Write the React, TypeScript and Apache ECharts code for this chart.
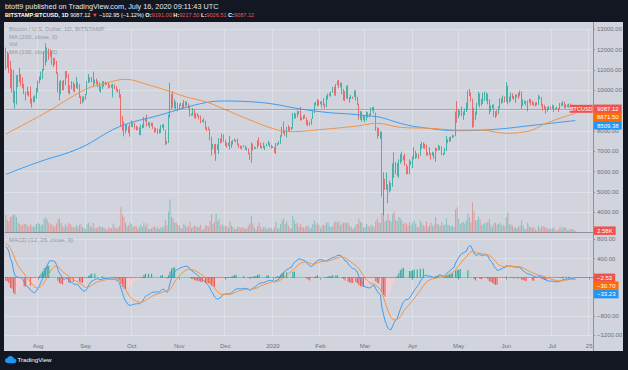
import React, { useEffect, useRef } from "react";
import * as echarts from "echarts";

const FONT = "'Liberation Sans', Arial, sans-serif";

// ---- daily closes before the visible window (used only to warm up the MACD EMAs), 2019-05-01 .. 2019-07-10
const warmupCloses = [
  5350, 5400, 5750, 5800, 5740, 5690, 5760, 5940, 6150, 6350, 7250, 6970, 7800, 7980, 8190, 7870, 7360, 7260, 8190, 7980, 7960, 7620, 7880, 8000, 8060, 8720, 8780, 8720, 8660, 8280, 8550,
  8560, 8740, 8120, 7680, 7790, 7800, 8010, 7930, 7630, 8010, 7920, 8170, 8230, 8690, 8850, 8990, 9320, 9080, 9280, 9530, 10200, 10700, 10850, 11000, 11770, 12930, 11180, 12350, 11880, 10780,
  10590, 10820, 11980, 11170, 10990, 11250, 11470, 12290, 12570, 12100,
];

// ---- visible daily candles, 2019-07-11 .. 2020-07-16
const closes = [
  11350, 11800, 11380, 10200, 10850, 9450, 9680, 10640, 10530, 10760, 10590, 10320, 9850, 9770, 9880, 9860, 9470, 9540, 9500, 9590, 10090,
  10400, 10530, 10820, 10980, 11800, 11480, 11980, 11960, 11870, 11290, 11560, 11390, 10860, 10030, 10300, 10370, 10230, 10340, 10920, 10760, 10130, 10120, 10410, 10140, 10130, 10370, 10180, 9720, 9490, 9590, 9600,
  9770, 10390, 10620, 10580, 10580, 10330, 10480, 10400, 10340, 10120, 10160, 10420, 10360, 10360, 10310, 10260, 10190, 10160, 10270, 10180, 9980, 10030, 9700, 8530, 8430, 8060, 8190, 8210, 8050, 8300,
  8330, 8390, 8240, 8160, 8150, 7870, 8200, 8200, 8590, 8590, 8270, 8300, 8280, 8360, 8160, 8000, 8080, 7960, 7960, 8230, 8240, 8030, 7470, 7420, 8660, 9260, 9550, 9230, 9430, 9190, 9150,
  9250, 9310, 9210, 9420, 9320, 9340, 9210, 8780, 8810, 9040, 8730, 8820, 8760, 8630, 8470, 8510, 8500, 8180, 8120, 8080, 7620, 7290, 7330, 6910, 7150, 7170, 7520, 7430, 7760, 7550,
  7410, 7300, 7300, 7200, 7400, 7540, 7510, 7530, 7350, 7230, 7210, 7200, 7260, 7080, 7110, 6880, 6620, 7290, 7150, 7190, 7150, 7510, 7320, 7250, 7200, 7200, 7250, 7300, 7390, 7220, 7170,
  7180, 6950, 7340, 7350, 7360, 7760, 8150, 8050, 7820, 8190, 8020, 8180, 8110, 8810, 8820, 8720, 8900, 8910, 8700, 8630, 8720, 8660, 8390, 8430, 8330, 8590, 8900, 9390, 9290, 9510, 9350,
  9380, 9330, 9290, 9180, 9620, 9760, 9800, 9900, 10160, 9850, 10270, 10360, 10240, 10360, 9900, 9930, 9710, 10180, 9600, 9610, 9680, 9670, 9960, 9670, 9310, 8780, 8810, 8700, 8540,
  8540, 8910, 8760, 8760, 9070, 9150, 8900, 8040, 7930, 7900, 7950, 4860, 5620, 5170, 5360, 5030, 5330, 5400, 6200, 6190, 6190, 5830, 6480, 6770, 6700, 6750, 6370, 6250, 5880, 6410, 6430,
  6670, 6810, 6740, 6870, 6780, 7340, 7200, 7370, 7290, 6870, 6890, 6910, 6850, 6860, 6630, 7110, 7040, 7260, 7130, 6850, 6850, 7130, 7490, 7510, 7540, 7700, 7790, 7770, 8790, 8620,
  8830, 8980, 8890, 8890, 9030, 9150, 9990, 9810, 9540, 8730, 8570, 8820, 9310, 9790, 9310, 9380, 9670, 9730, 9770, 9510, 9060, 9170, 9180, 8720, 8900, 8840, 9210, 9580, 9430, 9700, 9450,
  10200, 9520, 9670, 9790, 9620, 9670, 9760, 9780, 9770, 9890, 9280, 9470, 9480, 9340, 9430, 9520, 9460, 9380, 9300, 9360, 9290, 9680, 9630, 9290, 9250, 9160, 9000, 9110, 9190, 9140,
  9230, 9090, 9070, 9130, 9080, 9340, 9250, 9430, 9240, 9290, 9240, 9300, 9240, 9250, 9191, 9087.12,
];
const highs = [
  12100, 11900, 11820, 11450, 11050, 11000, 9980, 10750, 10750, 11100, 10800, 10650, 10320, 9930, 10180, 9950, 10200, 9600, 9700, 9750, 10120,
  10480, 10680, 10920, 11050, 11900, 12300, 12100, 12050, 12020, 11950, 11580, 11600, 11450, 10880, 10440, 10500, 10460, 10500, 10940, 10950, 10800, 10250, 10450, 10400, 10300, 10650, 10400, 10300, 9730, 9690, 9700,
  9820, 10450, 10800, 10650, 10640, 10920, 10530, 10580, 10480, 10400, 10220, 10440, 10450, 10420, 10380, 10370, 10270, 10280, 10320, 10290, 10200, 10070, 10050, 9800, 8730, 8460, 8290, 8320, 8230, 8330,
  8520, 8400, 8410, 8260, 8200, 8170, 8310, 8330, 8680, 8650, 8800, 8420, 8440, 8400, 8400, 8180, 8130, 8120, 8100, 8290, 8330, 8330, 8050, 7500, 8800, 10370, 9800, 9950, 9560, 9440, 9400,
  9300, 9390, 9360, 9520, 9460, 9440, 9360, 9220, 8860, 9130, 9070, 8880, 8860, 8780, 8760, 8540, 8620, 8500, 8190, 8210, 8100, 7710, 7360, 7350, 7360, 7340, 7650, 7630, 7870, 7820,
  7560, 7430, 7420, 7750, 7490, 7550, 7620, 7570, 7620, 7380, 7280, 7250, 7290, 7280, 7190, 7140, 6930, 7430, 7370, 7230, 7190, 7530, 7690, 7430, 7270, 7430, 7270, 7370, 7520, 7420, 7310,
  7250, 7200, 7400, 7400, 7490, 7790, 8200, 8460, 8050, 8200, 8280, 8190, 8190, 8880, 8900, 8850, 9000, 8980, 9180, 8680, 8770, 8800, 8660, 8520, 8450, 8600, 8970, 9400, 9420, 9570, 9520,
  9440, 9470, 9600, 9350, 9730, 9840, 9860, 9950, 10160, 10180, 10300, 10480, 10520, 10380, 10380, 10060, 9960, 10200, 10260, 9670, 9760, 9690, 9990, 10000, 9680, 9340, 8980, 8950, 8780,
  8740, 8960, 8920, 8850, 9150, 9170, 9190, 8900, 8180, 8140, 7980, 7970, 5960, 5650, 5950, 5370, 5560, 5440, 6400, 6950, 6460, 6420, 6600, 6860, 6980, 6780, 6880, 6300, 6260, 6600, 6520,
  6740, 7200, 7020, 6900, 6880, 7360, 7460, 7420, 7370, 7320, 6950, 7190, 6920, 6980, 6940, 7170, 7160, 7320, 7260, 7230, 6930, 7160, 7750, 7590, 7700, 7720, 7800, 7790, 8950, 9470,
  9060, 9000, 9200, 8960, 9100, 9400, 9990, 10060, 9900, 9580, 9130, 8960, 9380, 9920, 9840, 9580, 9880, 9940, 9890, 9840, 9560, 9250, 9300, 9300, 8970, 9020, 9220, 9600, 9600, 9740, 9700,
  10400, 10230, 9690, 9880, 9850, 9720, 9790, 9800, 9880, 9980, 9950, 9560, 9490, 9480, 9500, 9580, 9560, 9480, 9400, 9400, 9420, 9780, 9700, 9670, 9320, 9280, 9200, 9180, 9230, 9200,
  9290, 9270, 9130, 9190, 9140, 9370, 9370, 9470, 9440, 9310, 9300, 9340, 9350, 9280, 9270, 9217.5,
];
const lows = [
  11000, 11100, 10850, 10100, 9900, 9380, 9100, 9300, 10150, 10400, 10200, 10100, 9800, 9500, 9750, 9690, 9350, 9150, 9400, 9420, 9580,
  9900, 10330, 10500, 10550, 10960, 11220, 11400, 11500, 11650, 11250, 11150, 11250, 10800, 9900, 9500, 9800, 10000, 10000, 10250, 10600, 9850, 9800, 10050, 9930, 9900, 10100, 10050, 9620, 9320, 9360, 9430,
  9530, 9770, 10350, 10400, 10400, 10150, 10310, 10300, 10150, 9950, 9870, 10050, 10170, 10250, 10270, 10080, 10130, 10120, 9650, 10050, 9950, 9880, 9620, 8220, 8000, 7730, 7880, 8020, 7900, 7720,
  8200, 8180, 8080, 8020, 8050, 7800, 7780, 8120, 8150, 8460, 8220, 8250, 8150, 8230, 8100, 7910, 7950, 7850, 7880, 7900, 8150, 8020, 7300, 7350, 7400, 8650, 9080, 9150, 9120, 9060, 8970,
  9050, 9220, 9100, 9110, 9200, 9250, 9100, 8700, 8750, 8750, 8620, 8600, 8700, 8570, 8380, 8450, 8400, 8070, 7980, 8040, 7530, 6800, 7110, 6870, 6530, 7070, 6860, 7380, 7420, 7470,
  7250, 7170, 7260, 7080, 7160, 7330, 7490, 7440, 7300, 7170, 7130, 7080, 7200, 7060, 7030, 6850, 6570, 6430, 7030, 7100, 7110, 7130, 7260, 7160, 7130, 7150, 7060, 7240, 7290, 7200, 7130,
  7160, 6920, 6860, 7270, 7330, 7360, 7720, 7870, 7760, 7670, 8000, 7970, 8040, 8110, 8590, 8620, 8670, 8820, 8500, 8530, 8560, 8610, 8300, 8230, 8260, 8300, 8580, 8870, 9250, 9210, 9240,
  9310, 9150, 9240, 9100, 9170, 9540, 9700, 9690, 9880, 9740, 9730, 10250, 10100, 10140, 9800, 9500, 9470, 9600, 9560, 9400, 9560, 9570, 9660, 9500, 9270, 8550, 8540, 8450, 8530,
  8410, 8500, 8660, 8670, 8760, 8990, 8850, 8000, 7630, 7750, 7600, 4770, 3850, 5100, 5100, 4440, 4970, 5060, 5250, 5680, 5860, 5760, 5700, 6380, 6470, 6550, 6290, 5870, 5860, 5870, 6330,
  6170, 6600, 6630, 6680, 6620, 6780, 7110, 7150, 7120, 6770, 6790, 6810, 6580, 6780, 6620, 6480, 7000, 7020, 7060, 6800, 6800, 6840, 7010, 7400, 7450, 7490, 7650, 7680, 7740, 8400,
  8630, 8760, 8720, 8540, 8770, 8930, 9040, 9720, 9450, 8150, 8200, 8530, 8790, 9260, 9150, 9240, 9330, 9470, 9480, 9310, 8820, 8950, 9100, 8700, 8640, 8710, 8820, 9100, 9340, 9370, 9400,
  9420, 9300, 9390, 9460, 9580, 9530, 9380, 9640, 9570, 9690, 9080, 9230, 9330, 9250, 8970, 9380, 9240, 9280, 9220, 9210, 9260, 9280, 9560, 9220, 9000, 9040, 8850, 8950, 9030, 9080,
  9080, 8930, 9040, 9050, 8930, 9060, 9210, 9230, 9120, 9110, 9170, 9150, 9200, 9120, 9150, 9026.51,
];
// volume in thousands of BTC
const volumes = [
  25, 18, 16, 22, 24, 26, 25, 22, 14, 12, 10, 11, 13, 12, 10, 8, 12, 9, 8, 9, 12,
  14, 12, 10, 11, 20, 22, 19, 14, 11, 12, 9, 9, 13, 19, 20, 14, 9, 8, 12, 9, 14, 12, 9, 8, 7, 11, 8, 11, 12, 8, 6,
  5, 12, 14, 9, 8, 14, 6, 6, 8, 9, 8, 8, 7, 5, 4, 7, 6, 6, 13, 7, 6, 6, 9, 36, 25, 22, 14, 9, 10, 14,
  12, 8, 9, 9, 5, 8, 11, 8, 14, 9, 13, 5, 5, 6, 8, 9, 6, 8, 5, 7, 7, 9, 18, 10, 30, 47, 22, 20, 14, 14, 11,
  10, 6, 6, 12, 10, 8, 9, 15, 6, 8, 10, 9, 7, 8, 11, 4, 5, 10, 10, 8, 16, 26, 12, 15, 27, 16, 19, 10, 12, 9,
  10, 9, 7, 16, 10, 8, 5, 5, 9, 8, 6, 8, 6, 6, 5, 10, 13, 24, 13, 7, 4, 9, 14, 8, 5, 8, 8, 5, 6, 7, 6,
  4, 8, 15, 6, 6, 12, 17, 20, 12, 16, 10, 6, 6, 24, 17, 12, 14, 8, 12, 8, 7, 7, 10, 10, 6, 7, 12, 17, 11, 14, 11,
  6, 10, 11, 10, 15, 14, 9, 8, 9, 14, 16, 14, 16, 10, 13, 14, 14, 14, 14, 10, 8, 5, 7, 11, 12, 20, 15, 14, 7,
  8, 12, 10, 8, 11, 9, 8, 16, 20, 14, 14, 28, 50, 16, 17, 26, 18, 15, 26, 30, 18, 16, 22, 20, 17, 12, 14, 13, 10, 15, 10,
  14, 18, 13, 8, 7, 17, 14, 10, 9, 16, 8, 10, 14, 9, 11, 22, 12, 11, 9, 15, 10, 11, 20, 11, 10, 9, 10, 8, 33, 36,
  20, 12, 14, 15, 13, 18, 28, 22, 15, 43, 30, 17, 18, 23, 18, 10, 13, 13, 14, 15, 20, 11, 8, 13, 14, 11, 12, 14, 10, 11, 9,
  22, 29, 12, 11, 10, 6, 8, 6, 8, 10, 18, 10, 5, 5, 14, 9, 8, 7, 7, 4, 4, 10, 6, 9, 9, 8, 7, 5, 6, 5,
  6, 7, 4, 3, 4, 8, 5, 8, 7, 6, 3, 4, 5, 5, 4, 2.58,
];

// moving averages
const ma200Points: [string, number][] = [
  ["2019-07-11", 5864], ["2019-08-02", 6484], ["2019-08-28", 7144], ["2019-09-23", 8207], ["2019-10-19", 8768],
  ["2019-11-14", 9324], ["2019-11-29", 9471], ["2019-12-17", 9437], ["2020-01-01", 9324], ["2020-01-19", 9077],
  ["2020-02-07", 8896], ["2020-02-20", 8831], ["2020-03-04", 8733], ["2020-03-11", 8669], ["2020-03-24", 8374],
  ["2020-04-06", 8177], ["2020-05-01", 8010], ["2020-05-25", 8079], ["2020-06-20", 8290], ["2020-07-16", 8509.38],
];
const ma100Points: [string, number][] = [
  ["2019-07-11", 7847], ["2019-08-06", 8896], ["2019-09-01", 10047], ["2019-09-14", 10342], ["2019-09-27", 10539],
  ["2019-10-10", 10308], ["2019-10-23", 10013], ["2019-11-05", 9683], ["2019-11-18", 9437], ["2019-11-29", 9113],
  ["2019-12-17", 8537], ["2020-01-04", 8044], ["2020-01-12", 7961], ["2020-02-03", 8079], ["2020-02-25", 8241],
  ["2020-03-09", 8374], ["2020-03-24", 8177], ["2020-04-12", 8128], ["2020-04-30", 8044], ["2020-05-15", 8044],
  ["2020-06-01", 7882], ["2020-06-09", 7913], ["2020-06-18", 8044], ["2020-06-27", 8374], ["2020-07-16", 8871.5],
];

// time-axis labels
const timeLabelDates = ["2019-08-01", "2019-09-01", "2019-10-01", "2019-11-01", "2019-12-01", "2020-01-01", "2020-02-01", "2020-03-01", "2020-04-01", "2020-05-01", "2020-06-01", "2020-07-01", "2020-07-25"];
const timeLabelTexts = ["Aug", "Sep", "Oct", "Nov", "Dec", "2020", "Feb", "Mar", "Apr", "May", "Jun", "Jul", "25"];

// last-value readouts shown on the scales
const lastClose = 9087.12;
const lastMa100 = 8871.5;
const lastMa200 = 8509.38;
const lastVolumeK = 2.58;
const lastHist = -2.53;
const lastSignal = -30.7;
const lastMacd = -33.23;
// scale labels hidden under the readout boxes in the reference
const coveredPriceTicks = [3000, 9000];
const coveredMacdTicks = [0, -400];

const headerLine1 = "btott9 published on TradingView.com, July 16, 2020 09:11:43 UTC";
const headerSymbol = "BITSTAMP:BTCUSD, 1D";
const headerQuote = { last: "9087.12", change: "−102.95 (−1.12%)", o: "9191.00", h: "9217.50", l: "9026.51", c: "9087.12" };

const AXIS_START = "2019-07-11";
const AXIS_DAYS = 383;

const UP = "#26a69a";
const DOWN = "#ef5350";
const BLUE = "#3d9cf0";
const ORANGE = "#f39244";
const BG = "#d1d4dc";
const DARK = "#131722";
const GRIDLINE = "#dde0e7";
const SEP = "#8f929b";
const AXIS_TEXT = "#6f727d";

echarts.graphic.registerShape(
  "tvCloud",
  echarts.graphic.extendPath(
    "M3.5 8 C1.5 8 0 6.6 0 5 C0 3.5 1.1 2.4 2.5 2.2 C3 0.9 4.3 0 5.8 0 C7.6 0 9 1.2 9.3 2.9 C10.8 3 12 4.2 12 5.6 C12 6.9 10.9 8 9.5 8 Z",
    {}
  )
);

function buildOption() {
  const start = Date.parse(AXIS_START + "T00:00:00Z");
  const categories = Array.from({ length: AXIS_DAYS }, (_, i) => new Date(start + i * 86400000).toISOString().slice(0, 10));
  const labelMap = new Map(timeLabelDates.map((d, i) => [d, timeLabelTexts[i]]));
  const isMarked = (i: number) => labelMap.has(categories[i]);

  const opens = closes.map((c, i) => (i === 0 ? warmupCloses[warmupCloses.length - 1] : closes[i - 1]));
  const candleData = closes.map((c, i) => {
    const o = opens[i];
    return [o, c, Math.min(lows[i], o, c), Math.max(highs[i], o, c)];
  });
  const volData = volumes.map((v, i) => ({
    value: v,
    itemStyle: { color: closes[i] >= opens[i] ? "rgba(38,166,154,0.45)" : "rgba(239,83,80,0.45)" },
  }));

  const sparse = (pts: [string, number][]) => {
    const m = new Map(pts);
    return categories.map((d) => (m.has(d) ? m.get(d) : null));
  };

  const ema = (src: number[], n: number) => {
    const k = 2 / (n + 1);
    const out: number[] = [];
    src.forEach((v, i) => out.push(i === 0 ? v : v * k + out[i - 1] * (1 - k)));
    return out;
  };
  const all = [...warmupCloses, ...closes];
  const e12 = ema(all, 12);
  const e26 = ema(all, 26);
  const macdAll = all.map((_, i) => e12[i] - e26[i]);
  const sigAll = ema(macdAll, 9);
  const w = warmupCloses.length;
  const macd = macdAll.slice(w);
  const signal = sigAll.slice(w);
  const hist = macd.map((m, i) => m - signal[i]);
  const histData = hist.map((h, i) => {
    const prev = i === 0 ? macdAll[w - 1] - sigAll[w - 1] : hist[i - 1];
    const color = h >= 0 ? (h > prev ? UP : "#b2dfdb") : h < prev ? DOWN : "#ffcdd2";
    return { value: h, itemStyle: { color } };
  });

  const fmtSigned = (v: number) => (v < 0 ? "−" : "") + Math.abs(v).toFixed(2);

  const boxLabel = (text: string, bg: string, shift: number) => ({
    show: true,
    position: "end",
    distance: 1,
    opacity: 1,
    formatter: shift ? `{g| }\n{b|${text}}` : `{b|${text}}`,
    rich: {
      g: { height: shift * 2, fontSize: 1, lineHeight: shift * 2 },
      b: { backgroundColor: bg, color: "#ffffff", fontSize: 6, fontFamily: FONT, padding: [1.5, 3, 1, 3], lineHeight: 8 },
    },
  });
  const readout = (value: number, label: any, lineColor?: string) => ({
    silent: true,
    symbol: ["none", "none"],
    animation: false,
    lineStyle: { color: lineColor || "rgba(0,0,0,0)", width: lineColor ? 1 : 0, type: "solid", opacity: 1 },
    label,
    data: [{ yAxis: value }],
  });

  const monthSplit = { show: true, interval: (i: number) => isMarked(i), lineStyle: { color: GRIDLINE, width: 1 } };

  const legendText = (text: string, y: number) => ({
    type: "text",
    x: 9,
    y,
    z: 50,
    style: { text, fill: "#959aa5", fontSize: 6, fontFamily: FONT, verticalAlign: "middle" },
  });

  const HS = 5.6; // header quote font size
  return {
    animation: false,
    backgroundColor: BG,
    textStyle: { fontFamily: FONT },
    grid: [
      { left: 5, right: 35, top: 29.3, height: 203.2 },
      { left: 5, right: 35, top: 239.3, height: 96 },
    ],
    xAxis: [
      {
        type: "category",
        gridIndex: 0,
        data: categories,
        boundaryGap: true,
        axisLine: { show: true, lineStyle: { color: SEP, width: 1 } },
        axisTick: { show: false },
        axisLabel: { show: false },
        splitLine: monthSplit,
      },
      {
        type: "category",
        gridIndex: 1,
        data: categories,
        boundaryGap: true,
        offset: 3,
        axisLine: { show: true, lineStyle: { color: SEP, width: 1 } },
        axisTick: { show: true, interval: (i: number) => isMarked(i), alignWithLabel: true, length: 2, lineStyle: { color: SEP } },
        axisLabel: {
          show: true,
          interval: (i: number) => isMarked(i),
          formatter: (v: string) => labelMap.get(v) || "",
          fontSize: 6,
          color: AXIS_TEXT,
          margin: 5,
          fontFamily: FONT,
        },
        splitLine: monthSplit,
      },
    ],
    yAxis: [
      {
        type: "value",
        gridIndex: 0,
        position: "right",
        min: 3000,
        max: 13000,
        interval: 1000,
        axisLine: { show: false },
        axisTick: { show: true, length: 2, lineStyle: { color: SEP } },
        axisLabel: { fontSize: 6, color: AXIS_TEXT, margin: 4, fontFamily: FONT, formatter: (v: number) => (coveredPriceTicks.includes(v) ? "" : v.toFixed(2)) },
        splitLine: { show: true, lineStyle: { color: GRIDLINE, width: 1 } },
      },
      { type: "value", gridIndex: 0, min: 0, max: 290, show: false, splitLine: { show: false } },
      {
        type: "value",
        gridIndex: 1,
        position: "right",
        min: -1200,
        max: 800,
        interval: 400,
        axisLine: { show: false },
        axisTick: { show: true, length: 2, lineStyle: { color: SEP } },
        axisLabel: { fontSize: 6, color: AXIS_TEXT, margin: 4, fontFamily: FONT, formatter: (v: number) => (coveredMacdTicks.includes(v) ? "" : fmtSigned(v)) },
        splitLine: { show: true, lineStyle: { color: GRIDLINE, width: 1 } },
      },
    ],
    series: [
      {
        name: "Vol",
        type: "bar",
        xAxisIndex: 0,
        yAxisIndex: 1,
        data: volData,
        barWidth: "60%",
        z: 1,
        markLine: readout(lastVolumeK, boxLabel(lastVolumeK.toFixed(2) + "K", DOWN, 0)),
      },
      {
        name: "BTCUSD",
        type: "candlestick",
        xAxisIndex: 0,
        yAxisIndex: 0,
        data: candleData,
        barWidth: "45%",
        z: 3,
        itemStyle: { color: UP, color0: DOWN, borderColor: UP, borderColor0: DOWN, borderWidth: 0.8 },
        markLine: readout(lastClose, boxLabel(lastClose.toFixed(2), DOWN, 0), "rgba(239,83,80,0.55)"),
        markPoint: {
          silent: true,
          animation: false,
          data: [
            {
              coord: [categories[categories.length - 1], lastClose],
              symbol: "rect",
              symbolSize: [23, 8],
              symbolOffset: [-11, 0],
              itemStyle: { color: DOWN },
              label: { show: true, position: "inside", formatter: "BTCUSD", color: "#ffffff", fontSize: 5.5, fontFamily: FONT },
            },
          ],
        },
      },
      {
        name: "MA (200, close, 0)",
        type: "line",
        xAxisIndex: 0,
        yAxisIndex: 0,
        data: sparse(ma200Points),
        connectNulls: true,
        smooth: 0.4,
        showSymbol: false,
        z: 4,
        lineStyle: { color: BLUE, width: 1 },
        markLine: readout(lastMa200, boxLabel(lastMa200.toFixed(2), "#2196f3", 4.8)),
      },
      {
        name: "MA (100, close, 0)",
        type: "line",
        xAxisIndex: 0,
        yAxisIndex: 0,
        data: sparse(ma100Points),
        connectNulls: true,
        smooth: 0.4,
        showSymbol: false,
        z: 4,
        lineStyle: { color: ORANGE, width: 1 },
        markLine: readout(lastMa100, boxLabel(lastMa100.toFixed(2), "#ff6d00", 3.8)),
      },
      {
        name: "Histogram",
        type: "bar",
        xAxisIndex: 1,
        yAxisIndex: 2,
        data: histData,
        barWidth: "60%",
        z: 2,
        markLine: readout(lastHist, boxLabel(fmtSigned(lastHist), DOWN, 0)),
      },
      {
        name: "MACD",
        type: "line",
        xAxisIndex: 1,
        yAxisIndex: 2,
        data: macd,
        showSymbol: false,
        z: 4,
        lineStyle: { color: BLUE, width: 1 },
        markLine: readout(lastMacd, boxLabel(fmtSigned(lastMacd), "#2196f3", 14.8)),
      },
      {
        name: "Signal",
        type: "line",
        xAxisIndex: 1,
        yAxisIndex: 2,
        data: signal,
        showSymbol: false,
        z: 4,
        lineStyle: { color: ORANGE, width: 1 },
        markLine: readout(lastSignal, boxLabel(fmtSigned(lastSignal), "#ff6d00", 6.5)),
      },
    ],
    graphic: {
      elements: [
        { type: "rect", z: 40, shape: { x: 0, y: 0, width: 628, height: 22 }, style: { fill: DARK } },
        { type: "rect", z: 40, shape: { x: 0, y: 351, width: 628, height: 19 }, style: { fill: DARK } },
        { type: "rect", z: 40, shape: { x: 0, y: 0, width: 4, height: 370 }, style: { fill: DARK } },
        { type: "rect", z: 40, shape: { x: 623, y: 0, width: 5, height: 370 }, style: { fill: DARK } },
        { type: "line", z: 30, shape: { x1: 593.5, y1: 22, x2: 593.5, y2: 351 }, style: { stroke: SEP, lineWidth: 1 } },
        {
          type: "text",
          x: 5,
          y: 6.5,
          z: 50,
          style: { text: headerLine1, fill: "#e6e8ee", fontSize: 7.3, fontFamily: FONT, verticalAlign: "middle" },
        },
        {
          type: "text",
          x: 5,
          y: 15.3,
          z: 50,
          style: {
            text:
              `{b|${headerSymbol}} {w|${headerQuote.last}} {r|▼} {w|${headerQuote.change}} {b|O:}{r|${headerQuote.o}}` +
              ` {b|H:}{r|${headerQuote.h}} {b|L:}{r|${headerQuote.l}} {b|C:}{r|${headerQuote.c}}`,
            verticalAlign: "middle",
            fontSize: HS,
            fontFamily: FONT,
            fill: "#ffffff",
            rich: {
              b: { fill: "#ffffff", fontSize: HS, fontWeight: "bold", fontFamily: FONT },
              w: { fill: "#ffffff", fontSize: HS, fontFamily: FONT },
              r: { fill: "#f05350", fontSize: HS, fontFamily: FONT },
            },
          },
        },
        legendText("Bitcoin / U.S. Dollar, 1D, BITSTAMP", 29.3),
        legendText("MA (200, close, 0)", 36.8),
        legendText("Vol", 44.3),
        legendText("MA (100, close, 0)", 52),
        legendText("MACD (12, 26, close, 9)", 240),
        { type: "tvCloud", x: 5, y: 356, scaleX: 0.95, scaleY: 0.9, z: 50, style: { fill: "#2196f3" } },
        {
          type: "text",
          x: 17.5,
          y: 359.6,
          z: 50,
          style: { text: "TradingView", fill: "#ffffff", fontSize: 6.2, fontFamily: FONT, verticalAlign: "middle" },
        },
      ],
    },
  };
}

export default function App() {
  const ref = useRef<HTMLDivElement>(null);
  useEffect(() => {
    if (!ref.current) return;
    const chart = echarts.init(ref.current, null, { renderer: "svg" });
    chart.setOption(buildOption() as any);
    return () => chart.dispose();
  }, []);
  return <div ref={ref} style={{ position: "fixed", left: 0, top: 0, width: 628, height: 370 }} />;
}
